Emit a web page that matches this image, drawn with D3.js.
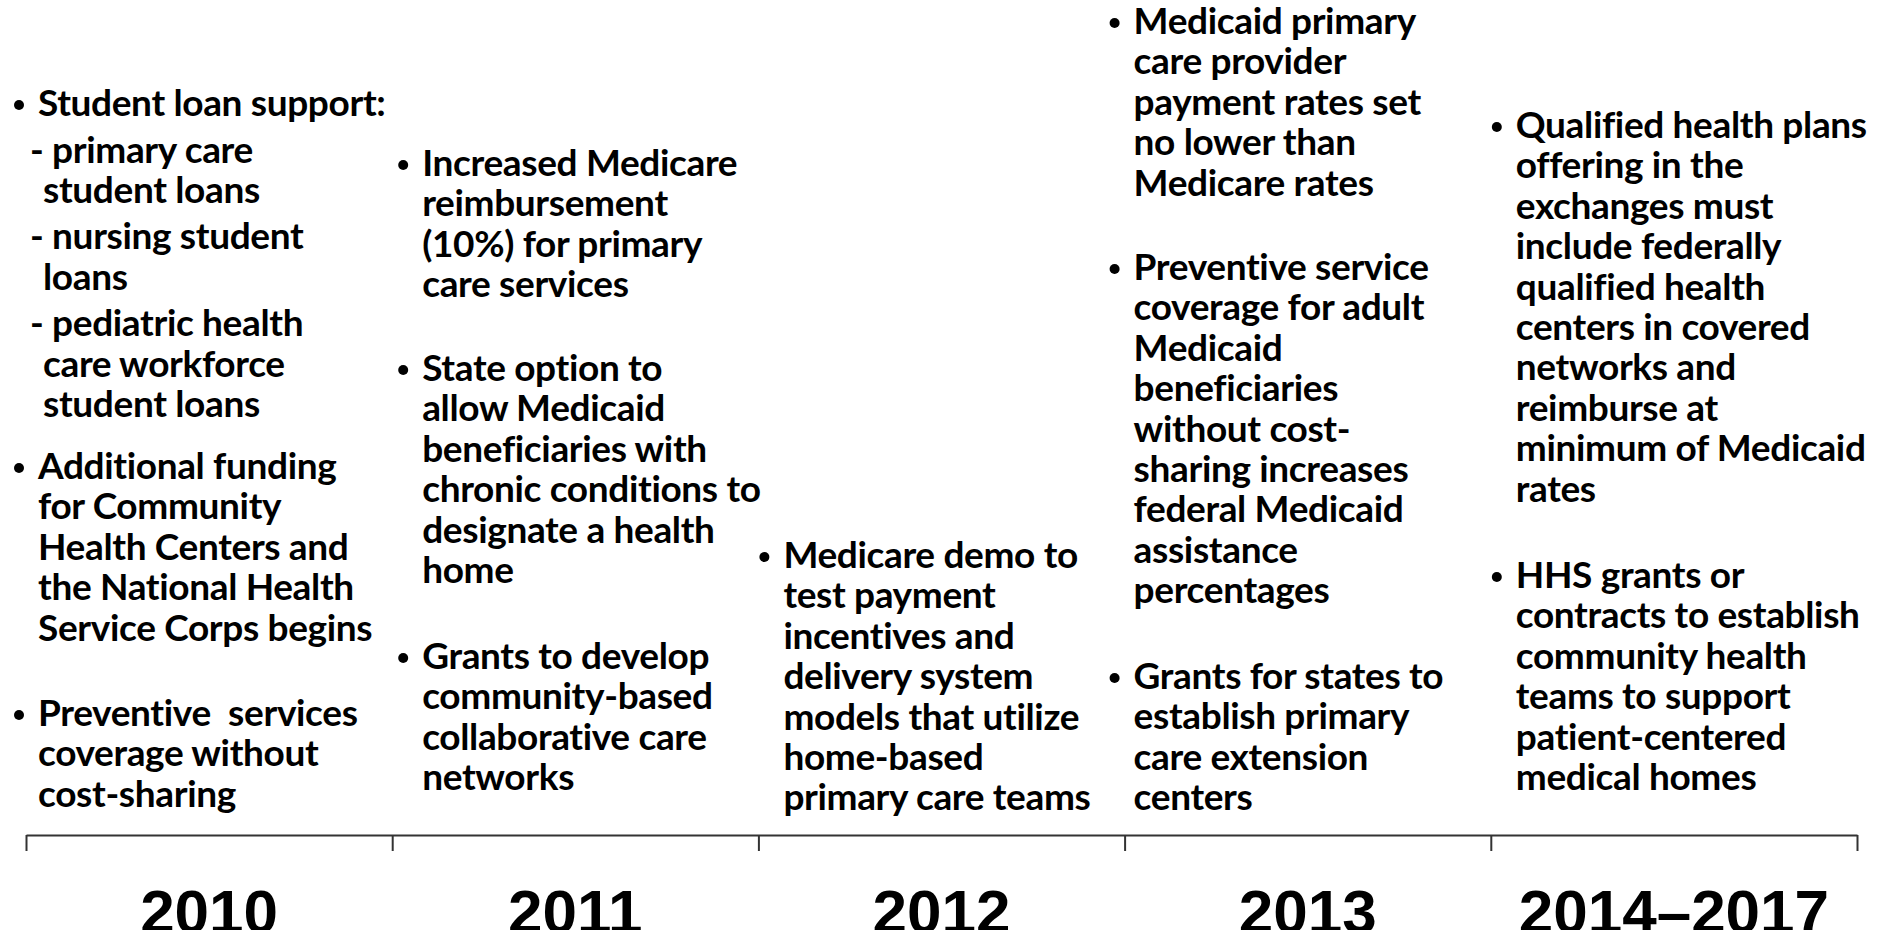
<!DOCTYPE html>
<html>
<head>
<meta charset="utf-8">
<script src="https://cdn.jsdelivr.net/npm/d3@7"></script>
<style>
  html, body { margin: 0; padding: 0; background: #fff; overflow: hidden; }
  svg { display: block; }
  .prov { font-family: Lato, "Open Sans", sans-serif; font-weight: 700; font-size: 37px; letter-spacing: -0.35px; fill: #000; white-space: pre; }
  .year { font-family: "Liberation Sans", Arial, sans-serif; font-weight: 700; font-size: 62px; fill: #000; }
  .axis path, .axis line { stroke: #333; stroke-width: 2; }
</style>
</head>
<body>
<script>
'use strict';

// one column per period on the timeline
const periods = ["2010", "2011", "2012", "2013", "2014\u20132017"];

// provisions for each period, line breaks kept as on the slide
const provisions2010 = [
  { lines: ["Student loan support:"],
    subs: [["primary care", "student loans"],
           ["nursing student", "loans"],
           ["pediatric health", "care workforce", "student loans"]] },
  { lines: ["Additional funding", "for Community", "Health Centers and", "the National Health", "Service Corps begins"] },
  { lines: ["Preventive  services", "coverage without", "cost-sharing"] }
];
const provisions2011 = [
  { lines: ["Increased Medicare", "reimbursement", "(10%) for primary", "care services"] },
  { lines: ["State option to", "allow Medicaid", "beneficiaries with", "chronic conditions to", "designate a health", "home"] },
  { lines: ["Grants to develop", "community-based", "collaborative care", "networks"] }
];
const provisions2012 = [
  { lines: ["Medicare demo to", "test payment", "incentives and", "delivery system", "models that utilize", "home-based", "primary care teams"] }
];
const provisions2013 = [
  { lines: ["Medicaid primary", "care provider", "payment rates set", "no lower than", "Medicare rates"] },
  { lines: ["Preventive service", "coverage for adult", "Medicaid", "beneficiaries", "without cost-", "sharing increases", "federal Medicaid", "assistance", "percentages"] },
  { lines: ["Grants for states to", "establish primary", "care extension", "centers"] }
];
const provisions2014 = [
  { lines: ["Qualified health plans", "offering in the", "exchanges must", "include federally", "qualified health", "centers in covered", "networks and", "reimburse at", "minimum of Medicaid", "rates"] },
  { lines: ["HHS grants or", "contracts to establish", "community health", "teams to support", "patient-centered", "medical homes"] }
];
const provisions = [provisions2010, provisions2011, provisions2012, provisions2013, provisions2014];

// layout of the text blocks
const W = 1885, H = 930;
const axisY = 835;
const axisLeft = 26, axisRight = 1857;
const textOffset = [12, 30, 25, 9, 25];        // text x from the start of each period
const itemTop = [[116, 479, 726], [176, 381, 669], [568], [34, 280, 689], [138, 588]];
const lineH = 40.4;
const subGap = 46.5;

const svg = d3.select('body').append('svg')
  .attr('width', W)
  .attr('height', H);

// period boundaries and period bands
let edge = d3.scaleLinear().domain([0, periods.length]).range([axisLeft, axisRight]);
let band = d3.scaleBand().domain(periods).range([axisLeft, axisRight]).padding(0);

// flatten every provision into lines with positions
let lines = [];
let bullets = [];
provisions.forEach((items, c) => {
  let x0 = band(periods[c]) + textOffset[c];
  items.forEach((item, i) => {
    let y = itemTop[c][i];
    bullets.push({ x: x0 - 19, y: y - 11 });
    item.lines.forEach((t, k) => {
      lines.push({ text: t, x: x0, y: y + k * lineH });
    });
    let last = y + (item.lines.length - 1) * lineH;
    (item.subs || []).forEach((sub) => {
      let sy = last + subGap;
      sub.forEach((t, k) => {
        lines.push({ text: k === 0 ? '- ' + t : t, x: k === 0 ? x0 - 8 : x0 + 5, y: sy + k * lineH });
      });
      last = sy + (sub.length - 1) * lineH;
    });
  });
});

svg.selectAll('.bullet')
  .data(bullets)
  .enter()
  .append('circle')
  .attr('class', 'bullet')
  .attr('cx', (d) => d.x)
  .attr('cy', (d) => d.y)
  .attr('r', 5)
  .attr('fill', '#000');

svg.selectAll('.prov')
  .data(lines)
  .enter()
  .append('text')
  .attr('class', 'prov')
  .attr('x', (d) => d.x)
  .attr('y', (d) => d.y)
  .text((d) => d.text);

// timeline axis with a tick at each period boundary
let axis = d3.axisBottom(edge)
  .tickValues(d3.range(periods.length + 1))
  .tickSize(16)
  .tickSizeOuter(0)
  .tickFormat('');
svg.append('g')
  .attr('class', 'axis')
  .attr('transform', 'translate(0,' + axisY + ')')
  .call(axis);

// period labels under the axis
svg.selectAll('.year')
  .data(periods)
  .enter()
  .append('text')
  .attr('class', 'year')
  .attr('x', (d) => band(d) + band.bandwidth() / 2)
  .attr('y', 933)
  .attr('text-anchor', 'middle')
  .text((d) => d);
</script>
</body>
</html>
